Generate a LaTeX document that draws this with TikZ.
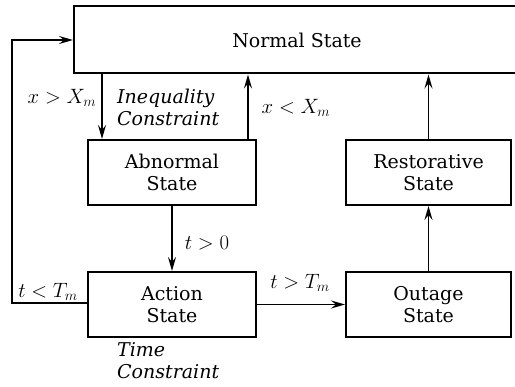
\documentclass[tikz,border=0pt]{standalone}
\usepackage[no-math]{fontspec}
\setmainfont{DejaVu Serif}
\usetikzlibrary{arrows.meta,calc}
\begin{document}
\begin{tikzpicture}[x=1pt,y=-1pt,
  box/.style={draw,line width=2pt,rectangle,inner sep=0pt,align=center,
    font=\fontsize{19}{22}\selectfont},
  arr/.style={line width=1.9pt,-{Stealth[length=14pt,width=8pt,inset=5pt]}},
  lab/.style={font=\fontsize{20}{22}\selectfont,inner sep=0pt},
  itl/.style={font=\fontsize{19}{22}\selectfont\itshape,align=left,inner sep=0pt,anchor=west}]
\useasboundingbox (0,0) rectangle (515,387);
\node[box,minimum width=446pt,minimum height=67pt] (normal) at (297,40) {Normal State};
\node[box,minimum width=168pt,minimum height=65pt] (abnormal) at (172,172.5) {Abnormal\\State};
\node[box,minimum width=165pt,minimum height=65pt] (restor) at (428.5,172.5) {Restorative\\State};
\node[box,minimum width=168pt,minimum height=65pt] (action) at (172,304.5) {Action\\State};
\node[box,minimum width=165pt,minimum height=65pt] (outage) at (428.5,304.5) {Outage\\State};
\coordinate (xa) at (102,0);
\coordinate (xb) at (248,0);
\coordinate (fbl) at (12,303);
\coordinate (fbt) at (12,40);
\draw[arr] (normal.south -| xa) -- (abnormal.north -| xa);
\draw[arr] (abnormal.north -| xb) -- (normal.south -| xb);
\draw[arr] (abnormal.south) -- (action.north);
\draw[arr] (action.east) -- (outage.west);
\draw[arr] (outage.north) -- (restor.south);
\draw[arr] (restor.north) -- (normal.south -| restor.north);
\draw[arr] (action.west |- fbl) -- (fbl) -- (fbt) -- (normal.west);
\node[lab] (l1) at (62,98) {$x>X_m$};
\node[itl] (l2) at (117,107) {Inequality\\Constraint};
\node[lab] (l3) at (296,108) {$x<X_m$};
\node[lab] (l4) at (207,243) {$t>0$};
\node[lab] (l5) at (48,292) {$t<T_m$};
\node[lab] (l6) at (300,283) {$t>T_m$};
\node[itl] (l7) at (117,361) {Time\\Constraint};
\end{tikzpicture}
\end{document}
